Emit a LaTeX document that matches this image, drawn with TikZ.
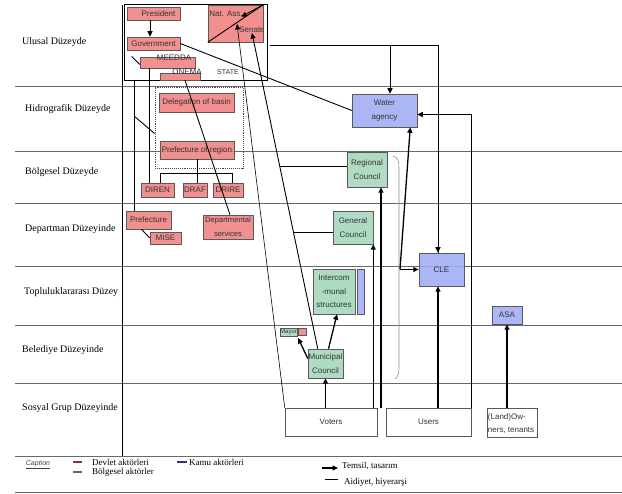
\documentclass[tikz,border=0pt]{standalone}
\usepackage{fontspec}
\setmainfont{Liberation Serif}
\setsansfont{Liberation Sans}
\usetikzlibrary{arrows.meta}
\definecolor{boxred}{RGB}{240,128,128}
\definecolor{boxgreen}{RGB}{164,214,186}
\definecolor{boxblue}{RGB}{158,172,245}
\definecolor{levelgray}{RGB}{105,105,105}
\definecolor{legred}{RGB}{150,50,50}
\definecolor{leggreen}{RGB}{90,110,100}
\definecolor{legblue}{RGB}{50,50,130}

\begin{document}
\begin{tikzpicture}[x=1pt, y=-1pt, >={Triangle[length=5.5pt,width=5pt]},
    box/.style={draw=black!65, line width=0.5pt, inner sep=1pt, fill opacity=0.88, text opacity=1,
      font=\sffamily\fontsize{8}{13.5}\selectfont, text=black!80, align=center},
    redbox/.style={box, fill=boxred},
    greenbox/.style={box, fill=boxgreen},
    bluebox/.style={box, fill=boxblue},
    whitebox/.style={box, fill=white},
    txt/.style={inner sep=0pt, font=\sffamily\fontsize{8}{13}\selectfont, text=black!80},
    level/.style={anchor=west, inner sep=0pt, font=\fontsize{10}{12}\selectfont},
    legend/.style={anchor=west, inner sep=0pt, font=\fontsize{9}{10}\selectfont},
    conn/.style={line width=0.9pt},
    thickconn/.style={line width=1.3pt}]
  \useasboundingbox (0,0) rectangle (622,494);

  \foreach \y in {86,151,203,266,325,383,456,492}
    \draw[levelgray, line width=0.8pt] (15,\y) -- (622,\y);
  \draw[line width=1pt] (122,5) -- (122,456);

  \node[level] (ulusal) at (22,42) {Ulusal Düzeyde};
  \node[level] (hidro) at (25,109) {Hidrografik Düzeyde};
  \node[level] (bolge) at (25,172) {Bölgesel Düzeyde};
  \node[level] (depart) at (25,229) {Departman Düzeyinde};
  \node[level] (toplu) at (24,292) {Topluluklararası Düzey};
  \node[level] (beled) at (22,350) {Belediye Düzeyinde};
  \node[level] (sosyal) at (22,408) {Sosyal Grup Düzeyinde};

  \node[draw, line width=0.9pt, inner sep=0pt, minimum width=143pt, minimum height=76pt] (state) at (195.5,42) {};
  \node[txt, font=\sffamily\fontsize{7}{8}\selectfont] (statetxt) at (228,72) {STATE};
  \node[draw=black!70, densely dotted, line width=0.9pt, inner sep=0pt, minimum width=88pt, minimum height=81pt] (basin) at (199,127.5) {};

  \node[redbox, minimum width=53pt, minimum height=13pt] (president) at (153.5,13.5) {\hspace*{10pt}President};
  \node[redbox, minimum width=53pt, minimum height=13pt] (govt) at (153.5,43.5) {Government};
  \node[redbox, minimum width=55pt, minimum height=37pt] (natass) at (235.5,23.5) {};
  \node[txt] (natxt) at (226,14) {Nat. Ass.};
  \node[txt] (senate) at (252,30) {Senate};
  \node[redbox, minimum width=55pt, minimum height=11pt] (meedda) at (167.5,62.5) {};
  \node[txt] (meeddatxt) at (174,58) {MEEDDA};
  \node[redbox, minimum width=40pt, minimum height=7pt] (onema) at (180,76.5) {};
  \node[txt] (onematxt) at (187,72) {ONEMA};

  \node[redbox, inner xsep=0pt, minimum width=75pt, minimum height=19pt] (delegation) at (196.5,102.5) {Delegation of basin};
  \node[redbox, inner xsep=0pt, minimum width=74pt, minimum height=18pt] (prefregion) at (197,150) {Prefecture of region};
  \node[redbox, minimum width=33pt, minimum height=14pt] (diren) at (157.5,190) {DIREN};
  \node[redbox, minimum width=24pt, minimum height=14pt] (draf) at (195,190) {DRAF};
  \node[redbox, minimum width=30pt, minimum height=14pt] (drire) at (228,190) {DRIRE};
  \node[redbox, minimum width=45pt, minimum height=18pt] (prefecture) at (148.5,220) {Prefecture};
  \node[redbox, minimum width=31pt, minimum height=12pt] (mise) at (165.5,238) {MISE};
  \node[redbox, inner xsep=0pt, minimum width=50pt, minimum height=24pt, font=\sffamily\fontsize{7.6}{13.5}\selectfont] (depserv) at (228,227) {Departmental\\services};

  \node[bluebox, minimum width=65pt, minimum height=33pt] (water) at (384.5,110.5) {Water\\agency};
  \node[greenbox, minimum width=40pt, minimum height=35pt] (regional) at (367,169.5) {Regional\\Council};
  \node[greenbox, minimum width=40pt, minimum height=33pt] (general) at (353,227.5) {General\\Council};
  \node[bluebox, minimum width=45pt, minimum height=33pt] (cle) at (441.5,269.5) {CLE};
  \node[greenbox, inner xsep=0pt, minimum width=42pt, minimum height=45pt] (intercom) at (334,291.5) {Intercom\\-munal\\structures};
  \node[bluebox, minimum width=7pt, minimum height=45pt] (interblue) at (360.5,291.5) {};
  \node[greenbox, inner sep=0pt, minimum width=17pt, minimum height=8pt, font=\sffamily\fontsize{6}{7}\selectfont] (mayor) at (288.5,332) {Mayor};
  \node[redbox, inner sep=0pt, minimum width=8pt, minimum height=7pt] (mayorred) at (302,331.5) {};
  \node[greenbox, inner xsep=0pt, minimum width=35pt, minimum height=29pt] (municipal) at (325.5,363.5) {Municipal\\Council};
  \node[bluebox, minimum width=30pt, minimum height=18pt] (asa) at (507,315) {ASA};

  \node[whitebox, minimum width=92pt, minimum height=28pt] (voters) at (331,422) {Voters};
  \node[whitebox, minimum width=85pt, minimum height=28pt] (users) at (428.5,422) {Users};
  \node[whitebox, minimum width=50pt, minimum height=29pt] (owners) at (512,422.5) {};
  \node[txt, anchor=north west, align=left] (ownerstxt) at ([shift={(1pt,-6pt)}]owners.north west) {(Land)Ow-\\ners, tenants};

  \draw[->, conn] (president.south -| 150,0) -- (govt.north -| 150,0);
  \draw[conn] (govt.east) -- (water.west);
  \draw[conn] ([yshift=-2pt]meedda.west) -- ++(-8,-8);
  \draw[conn] (natass.south west) -- (natass.north east);
  \draw[->, conn] (natass.north east) -- ++(-22,12);
  \draw[conn] (state.south west) ++(11,0) coordinate (s1) -- (s1 |- prefecture.north);
  \draw[conn] (s1) ++(0,36) -- ([yshift=-6pt]basin.west);
  \draw[conn] (meedda.south west) ++(10,0) coordinate (m1) -- (m1 |- diren.north);
  \draw[conn] (prefregion.south) -- ++(0,14) coordinate (br);
  \draw[conn] ([xshift=2.5pt]diren.north) |- (br) -| ([xshift=4pt]drire.north);
  \draw[conn] (br) -- (br |- draf.north);
  \draw[conn] ([xshift=-7pt]prefecture.south) -- (mise.west);
  \draw[conn] ([xshift=5pt]onema.south) -- ([xshift=2pt]depserv.north);

  \coordinate (nasin) at (237,24);
  \draw[->, line width=0.6pt] (voters.north west) -- (nasin);
  \draw[->, conn] ([xshift=10pt]municipal.north west) -- (senate.south)
    coordinate[pos=0.576] (j1) coordinate[pos=0.369] (j2);
  \draw[conn] (j1) -- (j1 -| regional.west);
  \draw[conn] (j2) -- (j2 -| general.west);

  \draw[conn] (state.east) ++(3,3) coordinate (t0) -| ([xshift=-3.5pt]cle.north);
  \draw[->, conn] ([xshift=-3.5pt]cle.north |- 0,240) -- ([xshift=-3.5pt]cle.north);
  \draw[->, conn] (t0 -| 390,0) -- (water.north -| 390,0);
  \draw[->, thickconn] (users.north east) |- ([yshift=-4pt]water.east);
  \draw[->, thickconn] ([xshift=-3.5pt]cle.south |- users.north) -- ([xshift=-3.5pt]cle.south);
  \draw[->, thickconn] (asa.south |- owners.north) -- (asa.south);
  \draw[->, thickconn] (municipal.south |- voters.north) -- (municipal.south);
  \draw[->, thickconn] (general.south east |- voters.north) -- (general.south east);
  \draw[->, thickconn] ([xshift=14pt]regional.south |- voters.north) -- ([xshift=14pt]regional.south);

  \draw[black!45, line width=0.6pt] (393,156) .. controls (398,157) and (399,161) .. (399,168)
    -- (399,368) .. controls (399,373) and (398,377) .. (395,379);
  \coordinate (brk) at (400,269.5);
  \draw[->, thickconn] (brk) -- ([xshift=-7pt]water.south east);
  \draw[->, thickconn] (brk) -- (cle.west);
  \draw[->, thickconn] ([xshift=3pt]municipal.north) -- ([xshift=3pt]intercom.south);
  \draw[->, thickconn, shorten >=2pt] ([yshift=5pt]municipal.west) -- (mayor.south east);

  \node[inner sep=0pt, font=\sffamily\itshape\fontsize{7}{8}\selectfont, text=black!75] (caption) at (38,465) {\underline{Caption}};
  \node[legend] (devlet) at (92,462) {Devlet aktörleri};
  \node[legend] (bolgesel) at (92,472) {Bölgesel aktörler};
  \node[legend] (kamu) at (189,462) {Kamu aktörleri};
  \node[legend] (temsil) at (342,466) {Temsil, tasarım};
  \node[legend] (aidiyet) at (344,482) {Aidiyet, hiyerarşi};
  \draw[legred, line width=2pt] ([xshift=-19pt]devlet.west) -- ++(9,0);
  \draw[leggreen, line width=2pt] ([xshift=-19pt]bolgesel.west) -- ++(9,0);
  \draw[legblue, line width=2pt] ([xshift=-12pt]kamu.west) -- ++(10,0);
  \draw[->, thickconn] ([shift={(-20pt,-2pt)}]temsil.west) -- ++(16,0);
  \draw[line width=0.6pt] ([shift={(-19pt,3pt)}]aidiyet.west) -- ++(13,0);
\end{tikzpicture}
\end{document}
